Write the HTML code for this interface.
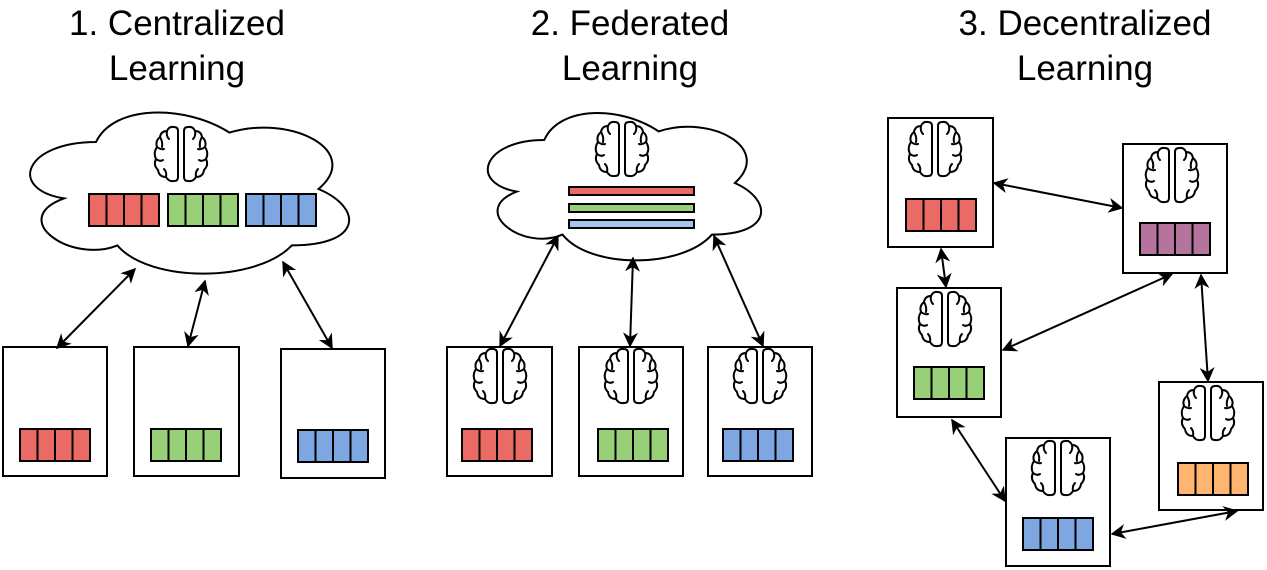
<!DOCTYPE html>
<html><head><meta charset="utf-8"><style>
html,body{margin:0;padding:0;background:#fff}
svg{display:block}
text{font-family:"Liberation Sans",Arial,sans-serif;font-size:35px;fill:#000;text-anchor:middle}
</style></head><body>
<svg width="1267" height="570" viewBox="0 0 1267 570" xmlns="http://www.w3.org/2000/svg">
<defs>
<marker id="ah" viewBox="0 0 10 10" refX="9" refY="5" markerWidth="15" markerHeight="15" markerUnits="userSpaceOnUse" orient="auto-start-reverse">
<path d="M0,0 L10,5 L0,10 L3,5 Z" fill="#000"/>
</marker>
<g id="half" fill="none" stroke="#000" stroke-width="2" stroke-linejoin="round" stroke-linecap="round">
<path d="M30,5 Q30,1 34,1 Q39,0 41,5 Q47,5 48,11 Q53,15 51,21 Q55,27 52,33 Q55,39 50,44 Q49,51 42,51 Q39,56 34,55 Q30,55 30,51 Z"/>
<path d="M41,5 Q42,10 39,13 M48,11 Q45,16 46,21 M51,21 Q47,24 44,23 M52,33 Q48,36 45,34 M42,51 Q41,46 44,43"/>
</g>
<g id="brain"><use href="#half"/><use href="#half" transform="translate(54,0) scale(-1,1)"/></g>
<g id="cells" stroke="#000" stroke-width="2"><line x1="17.5" y1="0" x2="17.5" y2="32"/><line x1="35" y1="0" x2="35" y2="32"/><line x1="52.5" y1="0" x2="52.5" y2="32"/></g>
</defs>

<text x="177" y="35">1. Centralized</text>
<text x="177" y="80">Learning</text>
<text x="630" y="35">2. Federated</text>
<text x="630" y="80">Learning</text>
<text x="1085" y="35">3. Decentralized</text>
<text x="1085" y="80">Learning</text>

<!-- clouds -->
<g fill="#fff" stroke="#000" stroke-width="2">
<path transform="translate(7,95) scale(356,188)" vector-effect="non-scaling-stroke" d="M0.25,0.25 C0.05,0.25 0,0.5 0.16,0.55 C0,0.66 0.18,0.9 0.31,0.8 C0.4,1 0.7,1 0.8,0.8 C1,0.8 1,0.6 0.875,0.5 C1,0.3 0.8,0.1 0.625,0.2 C0.5,0.05 0.3,0.05 0.25,0.25 Z"/>
<path transform="translate(468,97) scale(305,172)" vector-effect="non-scaling-stroke" d="M0.25,0.25 C0.05,0.25 0,0.5 0.16,0.55 C0,0.66 0.18,0.9 0.31,0.8 C0.4,1 0.7,1 0.8,0.8 C1,0.8 1,0.6 0.875,0.5 C1,0.3 0.8,0.1 0.625,0.2 C0.5,0.05 0.3,0.05 0.25,0.25 Z"/>
</g>

<!-- boxes -->
<g fill="#fff" stroke="#000" stroke-width="2">
<rect x="3" y="347" width="104" height="129"/>
<rect x="134" y="347" width="105" height="129"/>
<rect x="281" y="349" width="104" height="129"/>
<rect x="447" y="347" width="105" height="129"/>
<rect x="579" y="347" width="104" height="129"/>
<rect x="708" y="347" width="104" height="129"/>
<rect x="888" y="118" width="105" height="129"/>
<rect x="1123" y="144" width="104" height="129"/>
<rect x="897" y="288" width="104" height="129"/>
<rect x="1159" y="382" width="104" height="128"/>
<rect x="1006" y="438" width="104" height="128"/>
</g>

<!-- brains -->
<use href="#brain" x="154" y="126"/>
<use href="#brain" x="595" y="121"/>
<use href="#brain" x="473" y="348"/>
<use href="#brain" x="604" y="348"/>
<use href="#brain" x="733" y="348"/>
<use href="#brain" x="908" y="121"/>
<use href="#brain" x="1145" y="147"/>
<use href="#brain" x="918" y="291"/>
<use href="#brain" x="1181" y="385"/>
<use href="#brain" x="1031" y="440"/>

<!-- bars -->
<g stroke="#000" stroke-width="2">
<g transform="translate(89,194)"><rect width="70" height="32" fill="#ea6b66"/><use href="#cells"/></g>
<g transform="translate(168,194)"><rect width="70" height="32" fill="#97d077"/><use href="#cells"/></g>
<g transform="translate(246,194)"><rect width="70" height="32" fill="#7ea6e0"/><use href="#cells"/></g>
<g transform="translate(20,429)"><rect width="70" height="32" fill="#ea6b66"/><use href="#cells"/></g>
<g transform="translate(151,429)"><rect width="70" height="32" fill="#97d077"/><use href="#cells"/></g>
<g transform="translate(298,430)"><rect width="70" height="32" fill="#7ea6e0"/><use href="#cells"/></g>
<g transform="translate(462,429)"><rect width="70" height="32" fill="#ea6b66"/><use href="#cells"/></g>
<g transform="translate(598,429)"><rect width="70" height="32" fill="#97d077"/><use href="#cells"/></g>
<g transform="translate(723,429)"><rect width="70" height="32" fill="#7ea6e0"/><use href="#cells"/></g>
<g transform="translate(906,199)"><rect width="70" height="32" fill="#ea6b66"/><use href="#cells"/></g>
<g transform="translate(1140,223)"><rect width="70" height="32" fill="#b5739d"/><use href="#cells"/></g>
<g transform="translate(914,367)"><rect width="70" height="32" fill="#97d077"/><use href="#cells"/></g>
<g transform="translate(1178,463)"><rect width="70" height="32" fill="#ffb570"/><use href="#cells"/></g>
<g transform="translate(1023,518)"><rect width="70" height="32" fill="#7ea6e0"/><use href="#cells"/></g>
<rect x="569" y="187" width="125" height="8" fill="#ea6b66"/>
<rect x="569" y="204" width="125" height="8" fill="#97d077"/>
<rect x="569" y="220" width="125" height="8" fill="#a9c4eb"/>
</g>

<!-- arrows -->
<g stroke="#000" stroke-width="2" marker-start="url(#ah)" marker-end="url(#ah)">
<line x1="135" y1="269" x2="57" y2="348"/>
<line x1="205" y1="281" x2="188" y2="346"/>
<line x1="283" y1="262" x2="332" y2="348"/>
<line x1="558" y1="236" x2="500" y2="346"/>
<line x1="633" y1="258" x2="630" y2="346"/>
<line x1="714" y1="236" x2="763" y2="346"/>
<line x1="994" y1="183" x2="1122" y2="208"/>
<line x1="941" y1="249" x2="946" y2="287"/>
<line x1="1003" y1="350" x2="1172" y2="274"/>
<line x1="1201" y1="275" x2="1208" y2="381"/>
<line x1="952" y1="420" x2="1005" y2="501"/>
<line x1="1112" y1="534" x2="1237" y2="511"/>
</g>
</svg>
</body></html>
